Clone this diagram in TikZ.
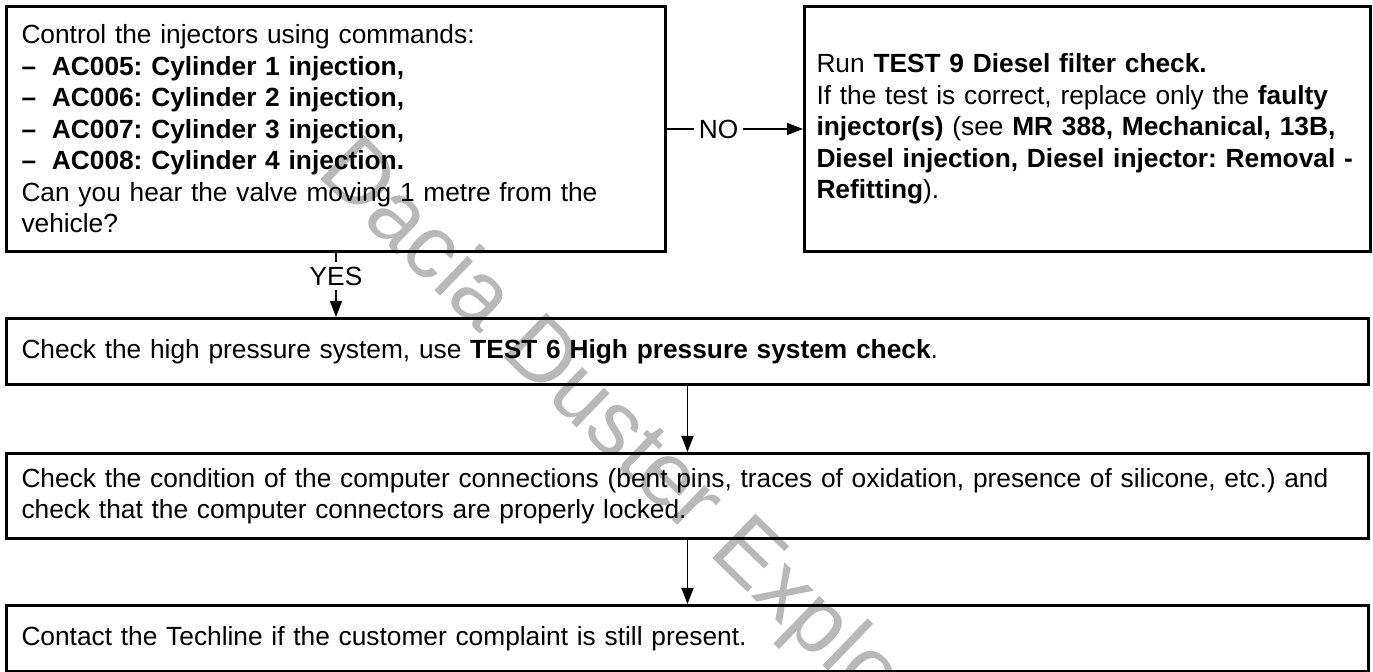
\documentclass[tikz,border=0pt]{standalone}
\usepackage{fontspec}
\setmainfont{Liberation Sans}
\usetikzlibrary{arrows.meta, positioning}
\frenchspacing

\begin{document}
\begin{tikzpicture}[
        x=0.5pt, y=-0.5pt,
        font=\fontsize{13.15}{15.75}\selectfont,
        boxNode/.style={rectangle, draw, line width=1.5pt, align=left, inner xsep=7.5pt, inner ysep=0pt},
        wideNode/.style={boxNode, text width=666pt},
        answerLabel/.style={fill=white, inner sep=2.5pt},
        watermark/.style={text=black!28, font=\fontsize{45}{45}\selectfont},
        arrow/.style={-{Triangle[length=8pt, width=6pt]}, line width=0.75pt}
    ]
        \useasboundingbox (0,0) rectangle (1373,672);
        \clip (0,0) rectangle (1373,672);

        \node[watermark, rotate=-44, anchor=base west] (mark) at (310,170) {Dacia Duster Explorer};

        \node[boxNode, text width=314.5pt, minimum height=122.5pt, anchor=north west] (question) at (5,5)
            {Control the injectors using commands:\\
             \textbf{–\hspace{0.6em}AC005: Cylinder 1 injection,}\\
             \textbf{–\hspace{0.6em}AC006: Cylinder 2 injection,}\\
             \textbf{–\hspace{0.6em}AC007: Cylinder 3 injection,}\\
             \textbf{–\hspace{0.6em}AC008: Cylinder 4 injection.}\\
             Can you hear the valve moving 1 metre from the\\
             vehicle?};
        \node[boxNode, text width=271pt, inner xsep=6pt, minimum height=122.5pt, right=68pt of question] (filterTest)
            {Run \textbf{TEST 9 Diesel filter check.}\\
             If the test is correct, replace only the \textbf{faulty}\\
             \textbf{injector(s)} (see \textbf{MR 388, Mechanical, 13B,}\\
             \textbf{Diesel injection, Diesel injector: Removal~-}\\
             \textbf{Refitting}).};
        \node[wideNode, minimum height=33pt, below=32pt of question.south west, anchor=north west] (highPressure)
            {Check the high pressure system, use \textbf{TEST 6 High pressure system check}.};
        \node[wideNode, minimum height=42.5pt, below=33pt of highPressure] (connCheck)
            {Check the condition of the computer connections (bent pins, traces of oxidation, presence of silicone, etc.) and\\
             check that the computer connectors are properly locked.};
        \node[wideNode, minimum height=33pt, below=32pt of connCheck] (techline)
            {Contact the Techline if the customer complaint is still present.};

        \draw[arrow] (question) -- node[answerLabel, pos=0.38] {NO} (filterTest);
        \draw[arrow] (question.south) -- node[answerLabel, pos=0.36] {YES} (question.south |- highPressure.north);
        \draw[arrow] (highPressure) -- (connCheck);
        \draw[arrow] (connCheck) -- (techline);
    \end{tikzpicture}
\end{document}
